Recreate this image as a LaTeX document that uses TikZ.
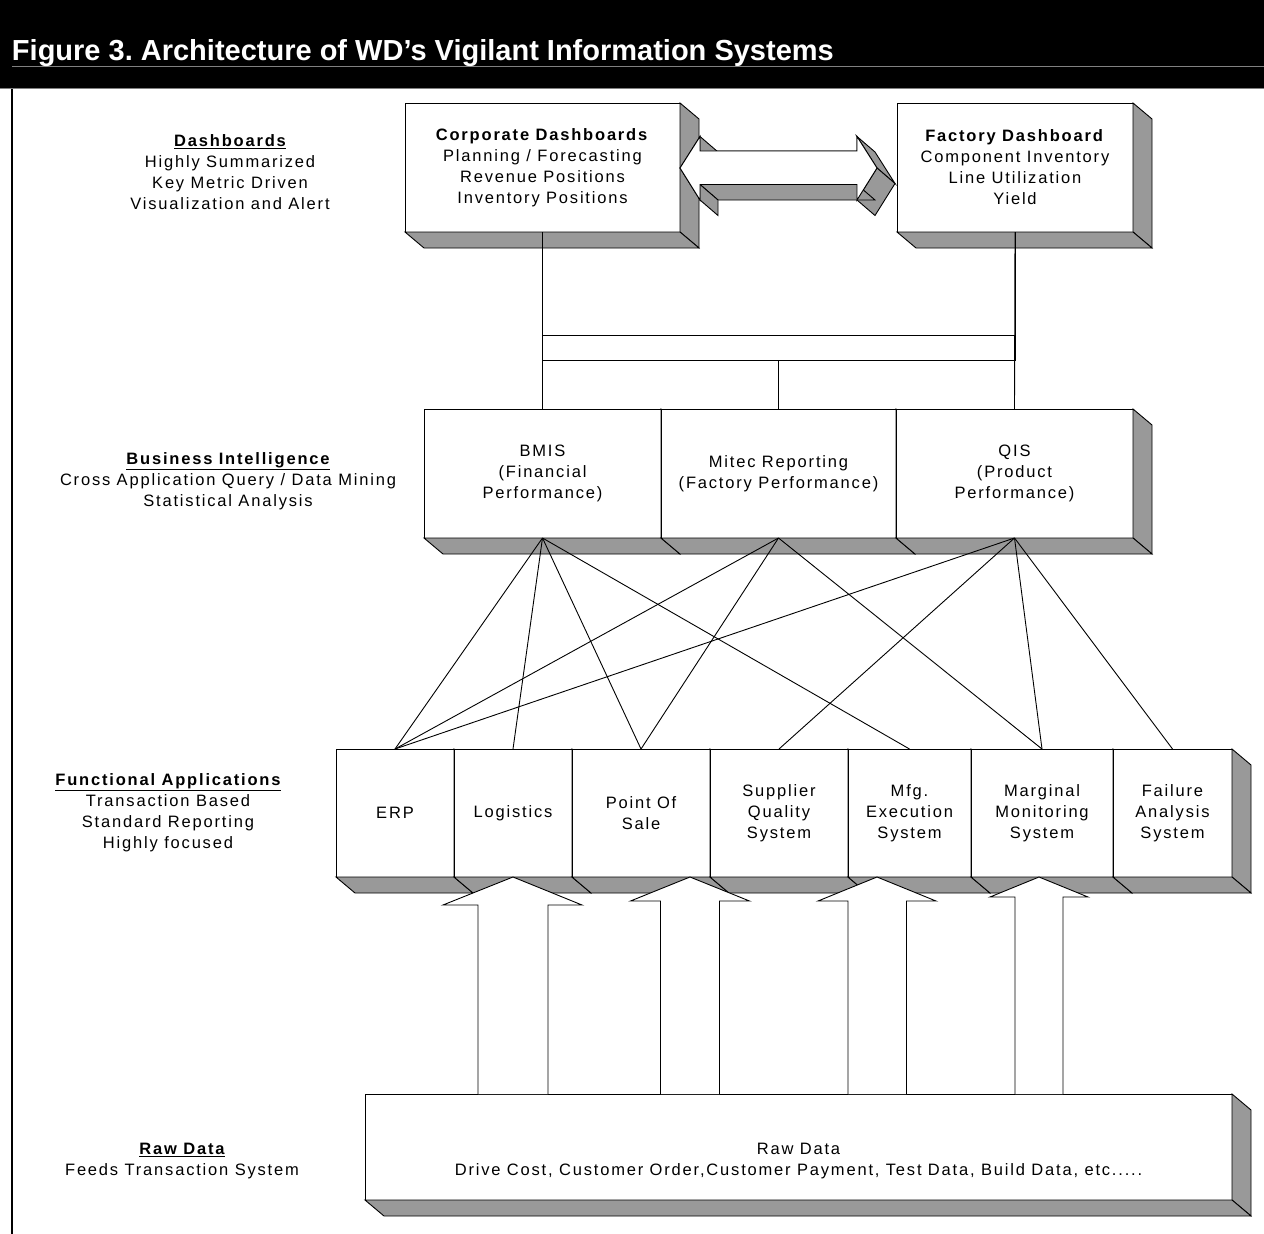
\documentclass[tikz,border=0pt]{standalone}
\usepackage{fontspec}
\setmainfont{Liberation Sans}
\newfontfamily\trackfont[LetterSpace=11]{Liberation Sans}
\usetikzlibrary{calc}
\definecolor{sidegray}{RGB}{153,153,153}
\newcommand\lblfont{\trackfont\fontsize{16.5}{21}\selectfont}
\newcommand\extrude[1]{%
  \filldraw[sidefill] (#1.north east) -- ([shift={(19,16)}]#1.north east) -- ([shift={(19,16)}]#1.south east) -- (#1.south east) -- cycle;
  \filldraw[sidefill] (#1.south west) -- (#1.south east) -- ([shift={(19,16)}]#1.south east) -- ([shift={(19,16)}]#1.south west) -- cycle;}
\frenchspacing
\begin{document}
\begin{tikzpicture}[x=1pt,y=-1pt,
  every node/.style={inner sep=0pt,outer sep=0pt},
  face/.style={draw=black,fill=white,line width=0.9pt,align=center,font=\lblfont},
  sidefill/.style={fill=sidegray,draw=black,line width=0.9pt,line join=miter},
  lbl/.style={align=center,font=\lblfont},
  conn/.style={draw=black,line width=0.9pt},
  flatarrow/.style={fill=white,draw=black,line width=0.9pt}]
\useasboundingbox (0,0) rectangle (1264,1234);
% header
\fill[black] (0,0) rectangle (1264,88);
\draw[gray,line width=1pt] (12,66) -- (1264,66);
\draw[gray,line width=1pt] (0,88) -- (1264,88);
\node[anchor=base west,text=white,font=\bfseries\fontsize{29}{29}\selectfont] (title) at (12,60) {Figure 3. Architecture of WD’s Vigilant Information Systems};
\draw[line width=2pt] (12,89) -- (12,1234);

% left labels
\node[lbl] (labDash) at (230,172.5) {\textbf{\underline{Dashboards}}\\Highly Summarized\\Key Metric Driven\\Visualization and Alert};
\node[lbl] (labBI) at (228,481) {\textbf{\underline{Business Intelligence}}\\Cross Application Query / Data Mining\\Statistical Analysis};
\node[lbl] (labFA) at (168,812.5) {\textbf{\underline{Functional Applications}}\\Transaction Based\\Standard Reporting\\Highly focused};
\node[lbl] (labRaw) at (182,1161) {\textbf{\underline{Raw Data}}\\Feeds Transaction System};

% dashboards
\node[face,minimum width=275,minimum height=129] (corp) at (542.5,167.5) {\textbf{Corporate Dashboards}\\Planning / Forecasting\\Revenue Positions\\Inventory Positions};
\extrude{corp}
\node[face,minimum width=236,minimum height=129] (fact) at (1015,167.5) {\textbf{Factory Dashboard}\\Component Inventory\\Line Utilization\\Yield};
\extrude{fact}

% double 3D arrow
\coordinate (Lt) at (680,168);
\coordinate (HTL) at (700,136.5);
\coordinate (STL) at (700,151);
\coordinate (STR) at (857,151);
\coordinate (HTR) at (857,136.5);
\coordinate (Rt) at (877,168);
\coordinate (HBR) at (857,200);
\coordinate (SBR) at (857,184.5);
\coordinate (SBL) at (700,184.5);
\coordinate (HBL) at (700,200);
\begin{scope}[shift={(18,15.5)}]
\filldraw[sidefill] (Lt) -- (HTL) -- (STL) -- (STR) -- (HTR) -- (Rt) -- (HBR) -- (SBR) -- (SBL) -- (HBL) -- cycle;
\end{scope}
\filldraw[sidefill] (HTL) -- (STL) -- ([shift={(18,15.5)}]STL) -- ([shift={(18,15.5)}]HTL) -- cycle;
\filldraw[sidefill] (HTR) -- (Rt) -- ([shift={(18,15.5)}]Rt) -- ([shift={(18,15.5)}]HTR) -- cycle;
\filldraw[sidefill] (Rt) -- (HBR) -- ([shift={(18,15.5)}]HBR) -- ([shift={(18,15.5)}]Rt) -- cycle;
\filldraw[sidefill] (SBR) -- (SBL) -- ([shift={(18,15.5)}]SBL) -- ([shift={(18,15.5)}]SBR) -- cycle;
\filldraw[sidefill] (SBL) -- (HBL) -- ([shift={(18,15.5)}]HBL) -- ([shift={(18,15.5)}]SBL) -- cycle;
\filldraw[fill=white,draw=black,line width=0.9pt] (Lt) -- (HTL) -- (STL) -- (STR) -- (HTR) -- (Rt) -- (HBR) -- (SBR) -- (SBL) -- (HBL) -- cycle;

% business intelligence
\node[face,minimum width=237,minimum height=129] (bmis) at (542.5,473.5) {BMIS\\(Financial\\Performance)};
\extrude{bmis}
\node[face,minimum width=235,minimum height=129] (mitec) at (778.5,473.5) {Mitec Reporting\\(Factory Performance)};
\extrude{mitec}
\node[face,minimum width=237,minimum height=129] (qis) at (1014.5,473.5) {QIS\\(Product\\Performance)};
\extrude{qis}

% dashboard -> BI connectors
\draw[conn] (corp.south) -- (bmis.north);
\draw[conn] (fact.south) -- (qis.north);
\draw[conn] (corp.south) |- (1014.5,335) -- (qis.north);
\draw[conn] (fact.south) |- (542.5,360) -- (bmis.north);
\draw[conn] (corp.south) |- (778.5,360) -- (mitec.north);

% functional applications
\node[face,minimum width=118,minimum height=128] (erp) at (395,813) {ERP};
\extrude{erp}
\node[face,minimum width=118,minimum height=128] (logi) at (513,813) {Logistics};
\extrude{logi}
\node[face,minimum width=138,minimum height=128] (pos) at (641,813) {Point Of\\Sale};
\extrude{pos}
\node[face,minimum width=138,minimum height=128] (supp) at (779,813) {Supplier\\Quality\\System};
\extrude{supp}
\node[face,minimum width=123,minimum height=128] (mfg) at (909.5,813) {Mfg.\\Execution\\System};
\extrude{mfg}
\node[face,minimum width=142,minimum height=128] (marg) at (1042,813) {Marginal\\Monitoring\\System};
\extrude{marg}
\node[face,minimum width=119,minimum height=128] (fail) at (1172.5,813) {Failure\\Analysis\\System};
\extrude{fail}

% BI -> applications
\foreach \t in {erp,logi,pos,mfg} \draw[conn] (bmis.south) -- (\t.north);
\foreach \t in {erp,pos,marg} \draw[conn] (mitec.south) -- (\t.north);
\foreach \t in {erp,supp,marg,fail} \draw[conn] (qis.south) -- (\t.north);

% raw data
\node[face,minimum width=867,minimum height=106] (raw) at (798.5,1147) {};
\extrude{raw}
\node[lbl] (rawtext) at (798.5,1161) {Raw Data\\Drive Cost, Customer Order,Customer Payment, Test Data, Build Data, etc.....};

% up arrows
\filldraw[flatarrow] (478,1094) -- (478,905) -- (443,905) -- (513,877) -- (582,905) -- (548,905) -- (548,1094);
\filldraw[flatarrow] (660.5,1094) -- (660.5,901) -- (630.5,901) -- (690,877) -- (749.5,901) -- (719.5,901) -- (719.5,1094);
\filldraw[flatarrow] (848,1094) -- (848,901) -- (818,901) -- (877,877) -- (936,901) -- (906.5,901) -- (906.5,1094);
\filldraw[flatarrow] (1015,1094) -- (1015,897) -- (990,897) -- (1039,877) -- (1088,897) -- (1063,897) -- (1063,1094);
\end{tikzpicture}
\end{document}
